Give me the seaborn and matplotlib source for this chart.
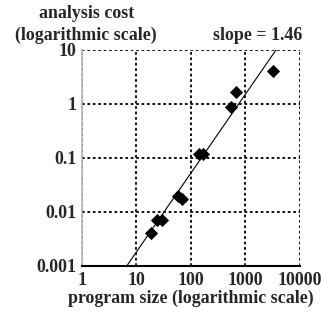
import matplotlib
matplotlib.use("Agg")
import matplotlib.pyplot as plt
import seaborn as sns
import numpy as np
import pandas as pd

# data
program_size = [18.2, 23.5, 29.7, 58, 68, 142, 168, 542, 660, 3200]
analysis_cost = [0.0040, 0.0070, 0.0070, 0.0198, 0.0174, 0.119, 0.119, 0.87, 1.65, 4.1]
fit_slope = 1.46
fit_log_intercept = -4.197
fit_x_range = [6.6, 3630]
x_ticks = [1, 10, 100, 1000, 10000]
x_tick_labels = ["1", "10", "100", "1000", "10000"]
y_ticks = [0.001, 0.01, 0.1, 1, 10]
y_tick_labels = ["0.001", "0.01", "0.1", "1", "10"]

sns.set_style("white")
plt.rcParams["font.family"] = ["Liberation Serif", "DejaVu Serif"]
plt.rcParams["font.weight"] = "bold"

FS = 12.9

fig = plt.figure(figsize=(3.21, 3.16), dpi=100)
ax = fig.add_axes([82/321, 1-266/316, 218/321, 216/316])

df = pd.DataFrame({"size": program_size, "cost": analysis_cost})
fx = np.array(fit_x_range, dtype=float)
fit = pd.DataFrame({"size": fx, "cost": 10**fit_log_intercept * fx**fit_slope})

sns.lineplot(data=fit, x="size", y="cost", ax=ax, color="black", linewidth=0.8)
sns.scatterplot(data=df, x="size", y="cost", ax=ax, marker="D", color="black",
                s=45, edgecolor="black", linewidth=0, zorder=3)

ax.set_xscale("log")
ax.set_yscale("log")
ax.set_xlim(1, 10000)
ax.set_ylim(0.001, 10)
ax.set_xticks(x_ticks)
ax.set_xticklabels(x_tick_labels)
ax.set_yticks(y_ticks)
ax.set_yticklabels(y_tick_labels)
ax.minorticks_off()
ax.tick_params(axis="both", length=0, labelsize=FS, pad=4)
for lab in ax.get_xticklabels() + ax.get_yticklabels():
    lab.set_fontweight("bold")

ax.grid(True, color="black", linestyle=(0, (1.5, 1.5)), linewidth=1.3)
for s in ["top", "right"]:
    ax.spines[s].set_visible(False)
ax.spines["left"].set_color("#b8b8b8")
ax.spines["left"].set_linewidth(1.2)
ax.spines["bottom"].set_color("black")
ax.spines["bottom"].set_linewidth(1.5)

ax.set_xlabel("program size (logarithmic scale)", fontsize=FS, fontweight="bold", labelpad=1)
ax.set_ylabel("")

fig.text(87/321, 1-13/316, "analysis cost", ha="center", va="center",
         fontsize=FS, fontweight="bold")
fig.text(86/321, 1-35/316, "(logarithmic scale)", ha="center", va="center",
         fontsize=FS, fontweight="bold")
fig.text(302/321, 1-35/316, "slope = 1.46", ha="right", va="center",
         fontsize=FS, fontweight="bold")

fig.savefig("out.png", dpi=100)
